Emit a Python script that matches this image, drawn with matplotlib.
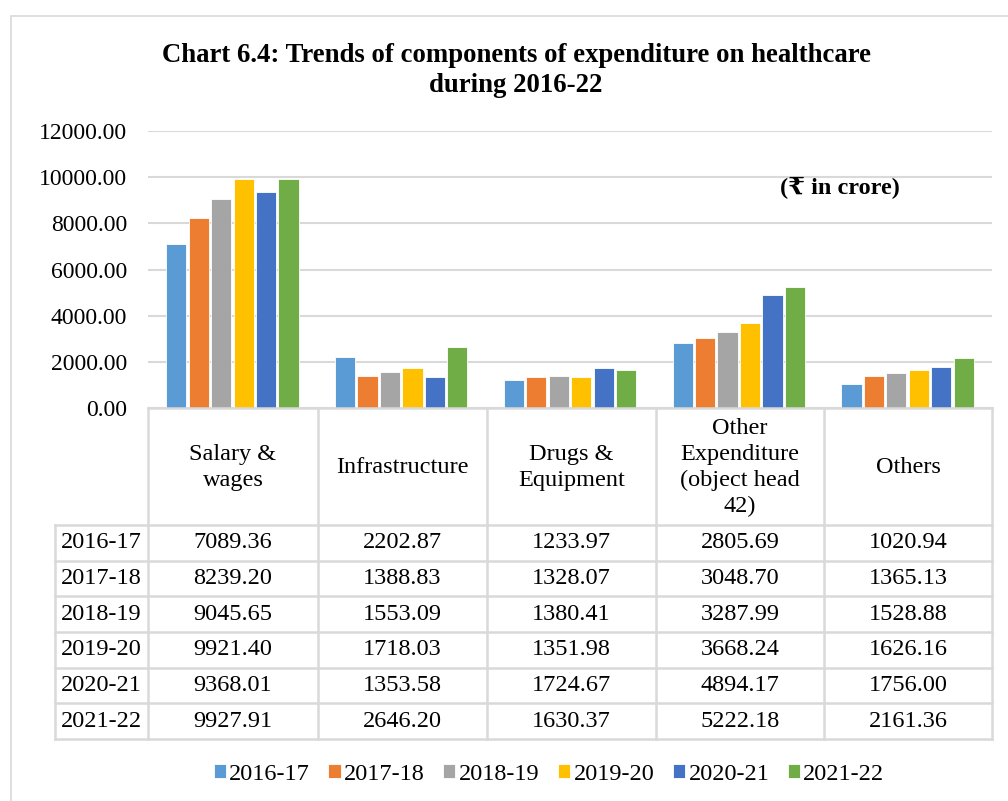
import numpy as np
import matplotlib
matplotlib.use("Agg")
import matplotlib.pyplot as plt
from matplotlib.patches import Rectangle
from matplotlib.lines import Line2D

plt.rcParams['font.family'] = ['Liberation Serif', 'DejaVu Serif']

categories = ["Salary &\nwages", "Infrastructure", "Drugs &\nEquipment",
              "Other\nExpenditure\n(object head\n42)", "Others"]
years = ["2016-17", "2017-18", "2018-19", "2019-20", "2020-21", "2021-22"]
values = [
    [7089.36, 2202.87, 1233.97, 2805.69, 1020.94],
    [8239.20, 1388.83, 1328.07, 3048.70, 1365.13],
    [9045.65, 1553.09, 1380.41, 3287.99, 1528.88],
    [9921.40, 1718.03, 1351.98, 3668.24, 1626.16],
    [9368.01, 1353.58, 1724.67, 4894.17, 1756.00],
    [9927.91, 2646.20, 1630.37, 5222.18, 2161.36],
]
colors = ["#5B9BD5", "#ED7D31", "#A5A5A5", "#FFC000", "#4472C4", "#70AD47"]
yticks = [0, 2000, 4000, 6000, 8000, 10000, 12000]

W, H = 1008, 801
grid_c = "#d9d9d9"
fs = 17.5


def fx(px):
    return px / W


def fy(py):
    return 1 - py / H


fig = plt.figure(figsize=(W / 100, H / 100), dpi=100)

# outer chart border (right / bottom are cut off in the reference)
fig.add_artist(Rectangle((fx(11), fy(1200)), fx(1200), fy(16) - fy(1200),
                         transform=fig.transFigure, fill=False,
                         edgecolor=grid_c, lw=1.2))

# plot area
left, right, top, bottom = 148, 992, 131, 408
ax = fig.add_axes([fx(left), fy(bottom), fx(right - left), fy(top) - fy(bottom)])
n = len(categories)
x = np.arange(n)
step = 0.133
for i, yr in enumerate(years):
    ax.bar(x + (i - 2.5) * step, values[i], width=step * 0.9, color=colors[i],
           edgecolor="white", linewidth=0.6, label=yr, zorder=3)
ax.set_xlim(-0.5, n - 0.5)
ax.set_ylim(0, 12000)
ax.set_yticks(yticks)
ax.set_yticklabels([f"{v:.2f}" for v in yticks], fontsize=17)
ax.tick_params(axis="y", length=0, pad=15)
ax.set_xticks([])
ax.grid(axis="y", color=grid_c, lw=1.5, zorder=0)
for s in ax.spines.values():
    s.set_visible(False)

ax.text(0.82, 0.794, "(₹ in crore)", transform=ax.transAxes, ha="center",
        va="center", fontsize=17.5, fontweight="bold")

fig.text(fx(516), fy(55), "Chart 6.4: Trends of components of expenditure on healthcare",
         ha="center", va="center", fontsize=19.3, fontweight="bold")
fig.text(fx(516), fy(86), "during 2016-22", ha="center", va="center",
         fontsize=19.3, fontweight="bold")

# data table
col_edges = [148, 318, 487, 656, 824, 992]
label_left = 55
head_bot = 525
row_h = (739 - head_bot) / len(years)
row_edges = [head_bot + k * row_h for k in range(len(years) + 1)]


def hline(y, x0, x1):
    fig.add_artist(Line2D([fx(x0), fx(x1)], [fy(y), fy(y)],
                          transform=fig.transFigure, color=grid_c, lw=1.8))


def vline(x, y0, y1):
    fig.add_artist(Line2D([fx(x), fx(x)], [fy(y0), fy(y1)],
                          transform=fig.transFigure, color=grid_c, lw=1.8))


hline(bottom, col_edges[0], col_edges[-1])
for y in row_edges:
    hline(y, label_left, col_edges[-1])
for xe in col_edges:
    vline(xe, bottom, row_edges[-1])
vline(label_left, head_bot, row_edges[-1])

for j, cat in enumerate(categories):
    cx = (col_edges[j] + col_edges[j + 1]) / 2
    fig.text(fx(cx), fy((bottom + head_bot) / 2 + 1), cat, ha="center",
             va="center", fontsize=fs, linespacing=1.3)
    for i in range(len(years)):
        cy = (row_edges[i] + row_edges[i + 1]) / 2
        fig.text(fx(cx), fy(cy), f"{values[i][j]:.2f}", ha="center",
                 va="center", fontsize=fs)
for i, yr in enumerate(years):
    cy = (row_edges[i] + row_edges[i + 1]) / 2
    fig.text(fx((label_left + col_edges[0]) / 2), fy(cy), yr, ha="center",
             va="center", fontsize=fs)

handles, labels = ax.get_legend_handles_labels()
fig.legend(handles, labels, loc="center", bbox_to_anchor=(fx(549), fy(774)),
           ncol=6, frameon=False, fontsize=fs, handlelength=0.5,
           handleheight=0.5, handletextpad=0.15, columnspacing=0.75)

fig.savefig("out.png", dpi=100)
